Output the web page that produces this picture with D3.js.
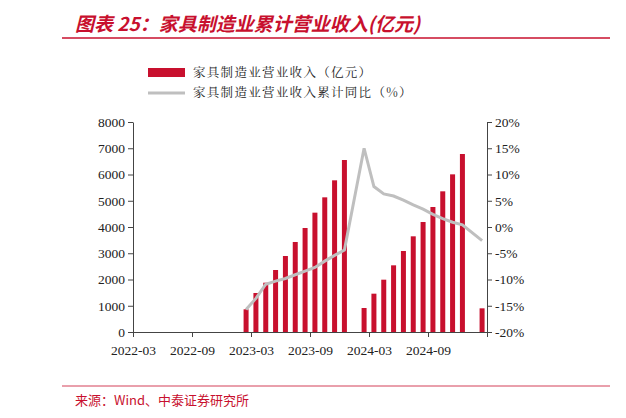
<!DOCTYPE html><html><head><meta charset="utf-8"><script src="https://cdn.jsdelivr.net/npm/d3@7"></script>
<style>body{margin:0;background:#fff}</style></head><body><svg id="c" width="626" height="418"></svg><script>
const xTickLabels=["2022-03","2022-09","2023-03","2023-09","2024-03","2024-09",""];
const months=["2023-02","2023-03","2023-04","2023-05","2023-06","2023-07","2023-08","2023-09","2023-10","2023-11","2023-12","2024-02","2024-03","2024-04","2024-05","2024-06","2024-07","2024-08","2024-09","2024-10","2024-11","2024-12","2025-02"];
const revenue=[865,1486,1878,2362,2895,3429,3962,4546,5130,5778,6552,914,1460,1993,2540,3086,3645,4190,4762,5359,6006,6781,902];
const growth=[-15.7,-13.6,-10.9,-10.3,-9.8,-9.1,-8.4,-7.7,-6.5,-5.4,-4.4,15.0,7.7,6.3,5.9,5.1,4.2,3.4,2.4,1.6,0.9,0.4,-2.6];
const leftTicks=[0,1000,2000,3000,4000,5000,6000,7000,8000];
const rightTicks=[-20,-15,-10,-5,0,5,10,15,20];
const svg=d3.select("#c");
const red="#c8102e";
const idx=m=>{const[y,mo]=m.split("-").map(Number);return (y-2022)*12+(mo-3);};
const x=d3.scaleLinear().domain([0,36]).range([133,487]);
const yL=d3.scaleLinear().domain([0,8000]).range([332,122]);
const yR=d3.scaleLinear().domain([-20,20]).range([332,122]);
svg.append("text").attr("x",75).attr("y",31).attr("fill",red).attr("font-size",19).attr("font-style","italic").attr("font-weight","bold").attr("font-family","Noto Sans CJK SC").text("图表 25：家具制造业累计营业收入(亿元)");
svg.append("line").attr("x1",62).attr("x2",610).attr("y1",38).attr("y2",38).attr("stroke",red).attr("stroke-width",1.5);
svg.append("line").attr("x1",62).attr("x2",610).attr("y1",386).attr("y2",386).attr("stroke",red).attr("stroke-width",0.8);
svg.append("text").attr("x",75).attr("y",405).attr("fill",red).attr("font-size",13).attr("font-family","Noto Sans CJK SC").text("来源：Wind、中泰证券研究所");
// legend
svg.append("rect").attr("x",148).attr("y",68).attr("width",37).attr("height",9).attr("fill",red);
svg.append("text").attr("x",193).attr("y",77).attr("font-size",12.5).attr("letter-spacing",1.3).attr("font-family","Noto Serif CJK SC, Noto Sans CJK SC").attr("fill","#222").text("家具制造业营业收入（亿元）");
svg.append("line").attr("x1",148).attr("x2",185).attr("y1",93).attr("y2",93).attr("stroke","#bfbfbf").attr("stroke-width",3);
svg.append("text").attr("x",193).attr("y",97).attr("font-size",12.5).attr("letter-spacing",1.3).attr("font-family","Noto Serif CJK SC, Noto Sans CJK SC").attr("fill","#222").text("家具制造业营业收入累计同比（%）");
// bars
svg.selectAll("rect.b").data(months).join("rect").attr("class","b")
 .attr("x",(m)=>x(idx(m)+0.5)-2.5).attr("width",5)
 .attr("y",(m,i)=>yL(revenue[i])).attr("height",(m,i)=>yL(0)-yL(revenue[i])).attr("fill",red);
// line
svg.append("path").datum(months).attr("fill","none").attr("stroke","#bfbfbf").attr("stroke-width",3)
 .attr("d",d3.line().x(m=>x(idx(m)+0.5)).y((m,i)=>yR(growth[i])));
// axes
const ff="Liberation Serif";
const gx=svg.append("g").attr("transform","translate(0,332)").call(d3.axisBottom(x).tickValues([0,6,12,18,24,30,36]).tickFormat((d,i)=>xTickLabels[i]).tickSize(5).tickSizeOuter(0));
const gl=svg.append("g").attr("transform","translate(133,0)").call(d3.axisLeft(yL).tickValues(leftTicks).tickFormat(d3.format("d")).tickSize(5).tickSizeOuter(0));
const gr=svg.append("g").attr("transform","translate(487,0)").call(d3.axisRight(yR).tickValues(rightTicks).tickFormat(d=>d+"%").tickSize(5).tickSizeOuter(0));
[gx,gl,gr].forEach(g=>{g.selectAll("text").attr("font-family",ff).attr("font-size",13.5).attr("fill","#222");g.selectAll("line,path").attr("stroke","#444");});
gx.selectAll("text").attr("dy","1.1em");
</script></body></html>
